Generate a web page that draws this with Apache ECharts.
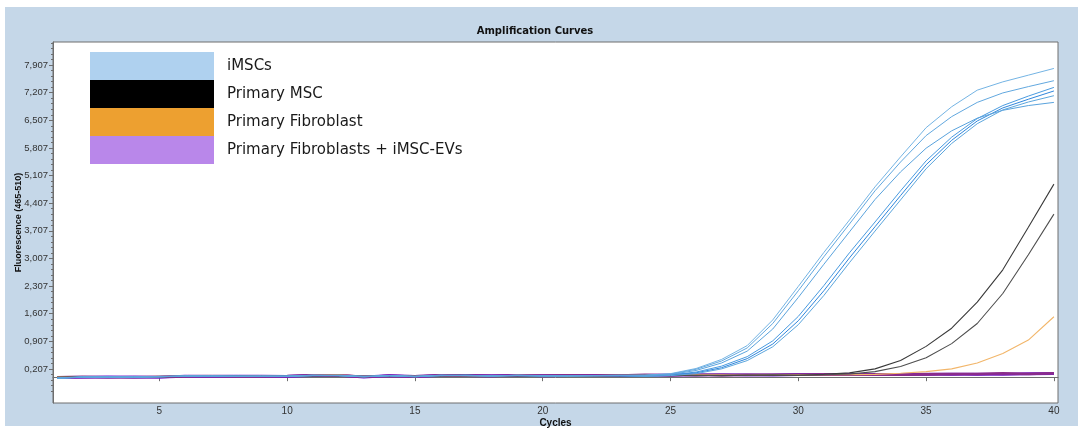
<!DOCTYPE html>
<html>
<head>
<meta charset="utf-8">
<script src="https://cdn.jsdelivr.net/npm/echarts@6.0.0/dist/echarts.min.js"></script>
<style>
html,body{margin:0;padding:0;background:#fff;width:1078px;height:430px;overflow:hidden}
#chart{position:absolute;left:0;top:0;width:1078px;height:430px;
  background:linear-gradient(#c5d7e8,#c5d7e8) 5px 7px / 1073px 419px no-repeat,#fff;}
</style>
</head>
<body>
<div id="chart"></div>
<script>
const cycles = [1,2,3,4,5,6,7,8,9,10,11,12,13,14,15,16,17,18,19,20,21,22,23,24,25,26,27,28,29,30,31,32,33,34,35,36,37,38,39,40];

const xTickValues = [5,10,15,20,25,30,35,40];
const yTickValues = [0.207,0.907,1.607,2.307,3.007,3.707,4.407,5.107,5.807,6.507,7.207,7.907];
const yTickLabels = ['0,207','0,907','1,607','2,307','3,007','3,707','4,407','5,107','5,807','6,507','7,207','7,907'];

const legendNames = ['iMSCs','Primary MSC','Primary Fibroblast','Primary Fibroblasts + iMSC-EVs'];

// iMSCs (6 replicates)
const iMSC_A1 = [-0.03,0.00,0.00,0.00,0.01,0.03,0.03,0.02,0.02,0.02,0.04,0.04,0.01,0.04,0.02,0.04,0.04,0.03,0.04,0.03,0.03,0.04,0.04,0.05,0.09,0.22,0.45,0.80,1.45,2.30,3.16,3.98,4.82,5.58,6.32,6.85,7.27,7.48,7.65,7.82];
const iMSC_A2 = [-0.02,0.01,0.00,0.01,0.01,0.02,0.03,0.02,0.03,0.02,0.04,0.05,0.02,0.03,0.02,0.05,0.04,0.03,0.04,0.04,0.03,0.04,0.05,0.05,0.08,0.20,0.41,0.74,1.36,2.19,3.05,3.88,4.72,5.45,6.12,6.60,6.96,7.20,7.36,7.51];
const iMSC_A3 = [-0.03,0.00,0.01,0.00,0.02,0.03,0.02,0.03,0.02,0.03,0.04,0.04,0.02,0.04,0.01,0.04,0.05,0.03,0.05,0.03,0.04,0.03,0.04,0.04,0.07,0.17,0.36,0.66,1.22,2.02,2.86,3.68,4.50,5.20,5.80,6.24,6.56,6.76,6.88,6.96];
const iMSC_B1 = [-0.02,0.00,0.00,0.01,0.01,0.03,0.03,0.02,0.02,0.03,0.05,0.04,0.01,0.04,0.02,0.04,0.05,0.03,0.04,0.03,0.04,0.04,0.04,0.03,0.06,0.13,0.28,0.52,0.92,1.54,2.32,3.15,3.93,4.72,5.48,6.08,6.55,6.88,7.12,7.34];
const iMSC_B2 = [-0.03,0.01,0.00,0.00,0.02,0.02,0.03,0.03,0.02,0.02,0.04,0.04,0.02,0.03,0.02,0.04,0.04,0.04,0.04,0.03,0.03,0.04,0.03,0.02,0.05,0.11,0.24,0.47,0.84,1.43,2.19,3.02,3.81,4.60,5.38,6.00,6.49,6.82,7.04,7.25];
const iMSC_B3 = [-0.02,0.00,0.01,0.00,0.01,0.03,0.02,0.02,0.03,0.02,0.05,0.04,0.01,0.04,0.01,0.05,0.04,0.03,0.05,0.04,0.03,0.04,0.04,0.02,0.04,0.09,0.21,0.42,0.77,1.33,2.07,2.90,3.70,4.49,5.28,5.92,6.42,6.77,6.97,7.13];

// Primary MSC (2 replicates)
const msc_1 = [0.00,0.00,0.00,0.00,0.01,0.02,0.03,0.02,0.02,0.02,0.04,0.05,0.02,0.03,0.01,0.04,0.04,0.04,0.04,0.03,0.04,0.04,0.04,0.05,0.04,0.05,0.04,0.05,0.05,0.05,0.07,0.11,0.21,0.42,0.78,1.24,1.90,2.72,3.80,4.89];
const msc_2 = [0.00,0.01,0.00,0.01,0.01,0.03,0.02,0.03,0.02,0.03,0.04,0.04,0.01,0.04,0.02,0.04,0.05,0.03,0.04,0.04,0.03,0.04,0.05,0.04,0.05,0.04,0.05,0.05,0.06,0.05,0.06,0.08,0.14,0.27,0.49,0.85,1.36,2.12,3.10,4.13];

// Primary Fibroblast
const fib_1 = [0.01,0.00,0.01,0.00,0.02,0.02,0.03,0.03,0.02,0.02,0.05,0.06,0.02,0.04,0.02,0.04,0.04,0.03,0.05,0.04,0.04,0.04,0.05,0.05,0.05,0.06,0.06,0.05,0.06,0.06,0.06,0.06,0.07,0.10,0.14,0.21,0.36,0.60,0.94,1.53];
const fib_2 = [0.00,0.01,0.00,0.01,0.01,0.02,0.03,0.02,0.03,0.03,0.05,0.06,0.02,0.04,0.01,0.04,0.05,0.04,0.04,0.04,0.04,0.05,0.04,0.05,0.06,0.06,0.07,0.05,0.06,0.06,0.07,0.07,0.06,0.07,0.08,0.07,0.08,0.09,0.08,0.09];

// Primary Fibroblasts + iMSC-EVs
const ev_1 = [-0.01,0.00,0.01,0.00,0.00,0.02,0.02,0.03,0.02,0.02,0.05,0.05,0.00,0.04,0.01,0.05,0.04,0.03,0.05,0.04,0.04,0.05,0.04,0.05,0.05,0.06,0.06,0.06,0.05,0.06,0.07,0.06,0.06,0.07,0.07,0.08,0.07,0.08,0.08,0.09];
const ev_2 = [0.00,0.00,0.00,0.01,0.00,0.03,0.02,0.02,0.03,0.02,0.04,0.05,0.01,0.04,0.02,0.04,0.05,0.04,0.05,0.03,0.04,0.04,0.05,0.05,0.06,0.05,0.06,0.05,0.06,0.07,0.06,0.07,0.06,0.07,0.08,0.07,0.08,0.07,0.09,0.09];
const ev_3 = [0.00,0.01,0.00,0.00,0.01,0.02,0.03,0.02,0.02,0.03,0.05,0.04,0.01,0.03,0.02,0.05,0.04,0.03,0.04,0.04,0.05,0.04,0.04,0.06,0.05,0.06,0.05,0.06,0.06,0.06,0.07,0.06,0.07,0.06,0.07,0.08,0.08,0.10,0.08,0.10];

const legendColors = ['#afd1ef','#000000','#eda030','#b987ea'];

const Y_MIN = -0.654, Y_MAX = 8.49;
const minorTicks = [];
for (let v = yTickValues[0] - 0.14*4; v <= Y_MAX; v += 0.14) {
  const r = Math.round(v*1000)/1000;
  if (r >= Y_MIN && !yTickValues.some(t => Math.abs(t - r) < 1e-6)) minorTicks.push(r);
}

function mk(name, arr, color, width, z) {
  return {
    type:'line', name:name, data: cycles.map((c,i)=>[c, arr[i]]),
    showSymbol:false, symbol:'none', smooth:false, silent:true, z:z,
    itemStyle:{color:color}, lineStyle:{color:color, width:width}
  };
}

const series = [
  mk(legendNames[2], fib_2, '#e89a38', 1.6, 2),
  mk(legendNames[3], ev_1, '#6a14d2', 2.6, 3),
  mk(legendNames[3], ev_2, '#7a20c4', 2.6, 3),
  mk(legendNames[3], ev_3, '#8a2c8a', 2.6, 3),
  mk(legendNames[2], fib_1, '#f2b66a', 1.1, 4),
  mk(legendNames[1], msc_1, '#3a3a3a', 1.1, 4),
  mk(legendNames[1], msc_2, '#4e4e4e', 1.1, 4),
  mk(legendNames[0], iMSC_B1, '#4a9be0', 1, 5),
  mk(legendNames[0], iMSC_B2, '#2f86dc', 1, 5),
  mk(legendNames[0], iMSC_B3, '#5ca6dd', 1, 5),
  mk(legendNames[0], iMSC_A1, '#74b4e4', 1, 5),
  mk(legendNames[0], iMSC_A2, '#62a8df', 1, 5),
  mk(legendNames[0], iMSC_A3, '#5aa3dd', 1, 5)
];

const chart = echarts.init(document.getElementById('chart'), null, {renderer:'canvas'});
chart.setOption({
  animation:false,
  backgroundColor:'transparent',
  title:{
    text:'Amplification Curves', left:535, top:26, textAlign:'center', padding:0,
    textStyle:{fontFamily:'DejaVu Sans', fontWeight:'bold', fontSize:10, color:'#111'}
  },
  legend:{
    orient:'vertical', left:90, top:52, itemWidth:124, itemHeight:28, itemGap:0,
    icon:'rect', padding:0, selectedMode:false,
    data: legendNames.map((n,i)=>({name:n, itemStyle:{color:legendColors[i], borderWidth:0}})),
    textStyle:{fontFamily:'DejaVu Sans', fontSize:15, color:'#1a1a1a', padding:[0,0,0,8]}
  },
  grid:{left:53, top:42, right:20, bottom:27, show:true, backgroundColor:'#fff',
        borderColor:'#6e6e6e', borderWidth:1, containLabel:false, outerBoundsMode:'none'},
  xAxis:{
    type:'value', min:0.84, max:40.16,
    axisLine:{lineStyle:{color:'#6e6e6e'}},
    axisTick:{customValues:xTickValues, length:4, lineStyle:{color:'#6e6e6e'}},
    axisLabel:{customValues:xTickValues, fontSize:10, color:'#333', fontFamily:'Liberation Sans', margin:3},
    splitLine:{show:false},
    name:'Cycles', nameLocation:'middle', nameGap:15, nameMoveOverlap:false,
    nameTextStyle:{fontWeight:'bold', fontSize:10, color:'#111', fontFamily:'Liberation Sans'}
  },
  yAxis:[{
    type:'value', min:Y_MIN, max:Y_MAX, position:'left',
    axisLine:{show:true, lineStyle:{color:'#6e6e6e'}},
    axisTick:{customValues:yTickValues, length:4, lineStyle:{color:'#6e6e6e'}},
    axisLabel:{customValues:yTickValues, fontSize:9.5, color:'#333', fontFamily:'Liberation Sans', margin:5,
      formatter:(v)=>{const i=yTickValues.findIndex(t=>Math.abs(t-v)<1e-6); return i>=0?yTickLabels[i]:'';}},
    splitLine:{show:false},
    name:'Fluorescence (465-510)', nameLocation:'middle', nameGap:30, nameMoveOverlap:false,
    nameTextStyle:{fontWeight:'bold', fontSize:9, color:'#111', fontFamily:'Liberation Sans'}
  },{
    type:'value', min:Y_MIN, max:Y_MAX, position:'left', offset:0,
    axisLine:{show:false},
    axisTick:{customValues:minorTicks, length:2, lineStyle:{color:'#6e6e6e'}},
    axisLabel:{show:false},
    splitLine:{show:false}
  }],
  series: series
});
</script>
</body>
</html>
